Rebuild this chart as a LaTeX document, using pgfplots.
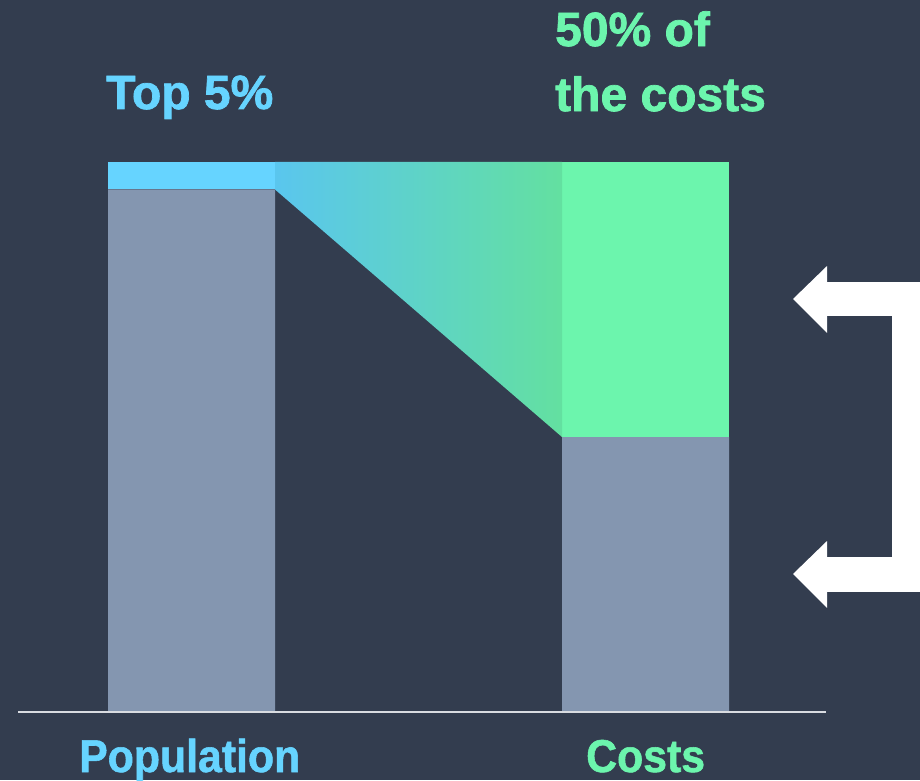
\documentclass[border=0pt]{standalone}
\usepackage{pgfplots}
\pgfplotsset{compat=1.18}
\usepackage{fontspec}
\setmainfont{Liberation Sans}
\newfontfamily\headfont{Liberation Sans Bold}[FakeBold=1.5]
\newfontfamily\condfont{Liberation Sans Bold}[FakeBold=1.2, FakeStretch=0.93]

\definecolor{bg}{HTML}{333D4F}
\definecolor{restgray}{HTML}{8496B0}
\definecolor{topblue}{HTML}{66D4FF}
\definecolor{topgreen}{HTML}{6CF5AD}
\definecolor{gradleft}{HTML}{5AC6EE}
\definecolor{gradright}{HTML}{63E0A0}
\definecolor{axisline}{HTML}{D9DCE1}

\pgfplotsset{frame/.style={
    scale only axis,
    width=920pt, height=780pt,
    xmin=0, xmax=920,
    ymin=-12.364, ymax=129.455,
    axis lines=none,
}}

\begin{document}
\begin{tikzpicture}
\begin{axis}[frame,
    axis background/.style={fill=bg},
    ybar stacked,
    bar width=167,
    ]
    % share of population / costs, in percent
    \addplot[fill=restgray, draw=none] coordinates {(191.5,95) (645.5,50)};
    \addplot[fill=topblue, draw=none] coordinates {(191.5,5) (645.5,0)};
    \addplot[fill=topgreen, draw=none] coordinates {(191.5,0) (645.5,50)};
\end{axis}
\begin{axis}[frame]
    % band joining the top 5% to its half of the costs
    \addplot[draw=none, left color=gradleft, right color=gradright]
        coordinates {(275,95) (275,100) (562,100) (562,50)} -- cycle;

    % baseline
    \addplot[color=axisline, line width=1.5pt] coordinates {(18,0) (826,0)};

    % bracket with two arrows
    \addplot[fill=white, draw=none] coordinates {
        (793,75.09) (827,81.09) (827,78.18) (920,78.18) (920,21.82)
        (827,21.82) (827,18.91) (793,25.09) (827,31.09) (827,28.18)
        (892,28.18) (892,72.0) (827,72.0) (827,68.91)} -- cycle;

    \node[anchor=base west, inner sep=0, text=topblue, font=\headfont\fontsize{48}{56}\selectfont]
        at (axis cs:106,109.64) {Top 5\%};
    \node[anchor=base west, inner sep=0, text=topgreen, font=\headfont\fontsize{48}{56}\selectfont]
        at (axis cs:555,121.09) {50\% of};
    \node[anchor=base west, inner sep=0, text=topgreen, font=\headfont\fontsize{48}{56}\selectfont]
        at (axis cs:555,109.27) {the costs};
    \node[anchor=base west, inner sep=0, text=topblue, font=\condfont\fontsize{46}{54}\selectfont]
        at (axis cs:79,-10.91) {Population};
    \node[anchor=base west, inner sep=0, text=topgreen, font=\condfont\fontsize{46}{54}\selectfont]
        at (axis cs:586,-10.91) {Costs};
\end{axis}
\end{tikzpicture}
\end{document}
